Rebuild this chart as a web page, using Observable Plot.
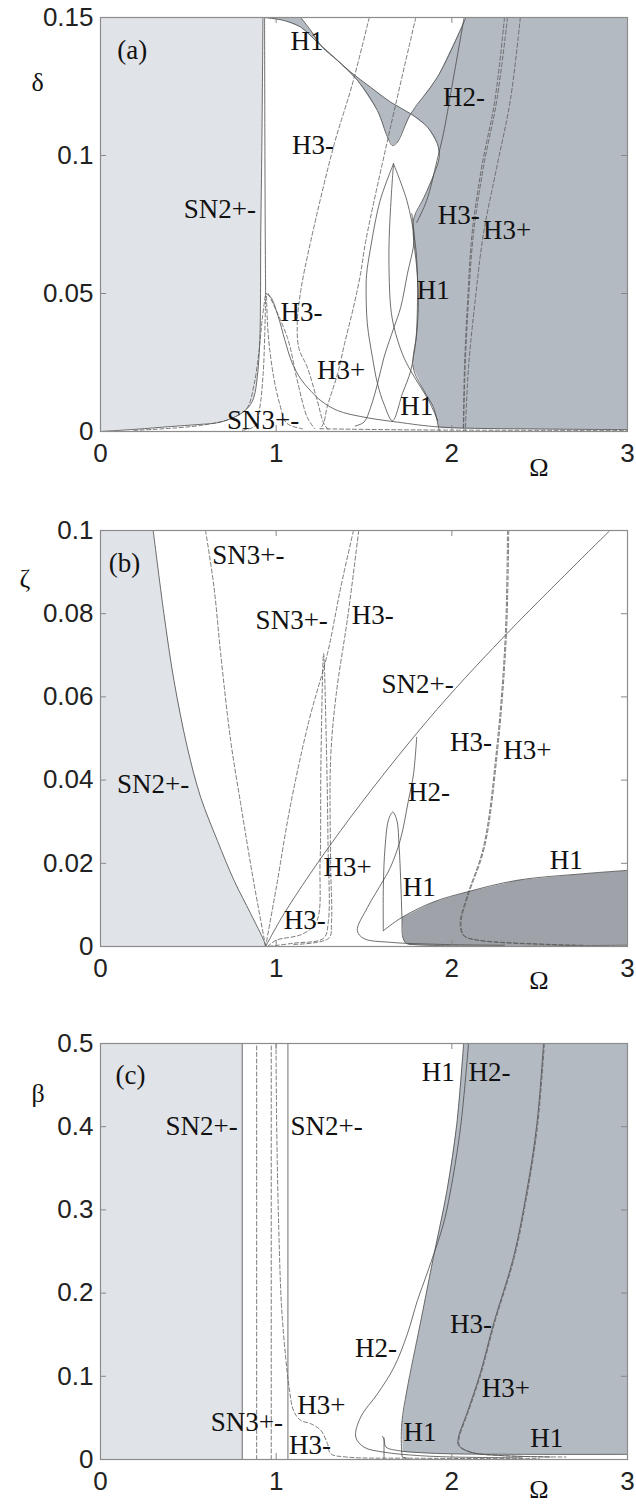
<!DOCTYPE html>
<html><head><meta charset="utf-8">
<script src="https://cdn.jsdelivr.net/npm/d3@7"></script>
<script src="https://cdn.jsdelivr.net/npm/@observablehq/plot@0.6"></script>
<style>body{margin:0;background:#fff;width:636px;height:1508px;overflow:hidden} svg{display:block}</style>
</head><body><div id="chart"></div>
<script>
// ---------- shared ----------
const xTicks = [0, 1, 2, 3];
const xTickLabels = ["0", "1", "2", "3"];

// ---------- panel (a): delta vs Omega ----------
const aYTicks = [0, 0.05, 0.1, 0.15];
const aYTickLabels = ["0", "0.05", "0.1", "0.15"];
const aSN2 = [[0,0],[0.2,0.0008],[0.4,0.0018],[0.55,0.0025],[0.684,0.0034],[0.797,0.0064],[0.845,0.009],[0.873,0.0124],[0.893,0.02],[0.907,0.033],[0.911,0.05],[0.912,0.0692],[0.918,0.1],[0.925,0.15]];
const aSN2b = [[0.934,0.15],[0.936,0.1],[0.938,0.07],[0.94,0.05]];
const aCuspSolid = [[0.94,0.05],[0.969,0.0487],[1.01,0.042],[1.05,0.033],[1.09,0.025],[1.14,0.019],[1.2,0.0145],[1.254,0.0112],[1.349,0.0076],[1.5,0.0052],[1.69,0.0034],[1.937,0.0016],[2.5,0.0009],[3,0.0007]];
const aCuspDash1 = [[0.19,0.0004],[0.57,0.0022],[0.76,0.0051],[0.836,0.0087],[0.874,0.017],[0.902,0.029],[0.921,0.041],[0.94,0.05]];
const aCuspDash2 = [[0.94,0.05],[0.935,0.035],[0.925,0.02],[0.905,0.008],[0.88,0.002],[0.8,0.0004]];
const aCuspDash3 = [[0.945,0.049],[0.955,0.035],[0.985,0.02],[1.02,0.01],[1.06,0.003],[1.15,0.001]];
const aCuspDash4 = [[0.955,0.05],[1.064,0.034],[1.12,0.0185],[1.178,0.005],[1.22,0.001]];
const aH3upper1 = [[1.53,0.15],[1.43,0.125],[1.33,0.104],[1.197,0.069],[1.14,0.051],[1.12,0.039],[1.13,0.03],[1.177,0.0233],[1.234,0.0112],[1.272,0.0028],[1.3,0.0005]];
const aH3upper2 = [[1.795,0.15],[1.65,0.11],[1.51,0.069],[1.48,0.057],[1.44,0.045],[1.39,0.032],[1.35,0.021],[1.29,0.0088],[1.27,0.003],[1.25,0.001]];
const aS1 = [[0.931,0.15],[1.045,0.1489],[1.14,0.1465],[1.235,0.141],[1.33,0.1356],[1.425,0.1302],[1.538,0.1247],[1.652,0.1193],[1.766,0.1151],[1.861,0.1103],[1.918,0.1042],[1.928,0.0994],[1.899,0.0934],[1.842,0.0849],[1.785,0.0776],[1.78,0.0716],[1.80,0.0595],[1.81,0.0475],[1.80,0.0354],[1.78,0.0233],[1.84,0.0149],[1.895,0.0088],[1.924,0.0016],[1.93,0]];
const aV = [[1.14,0.15],[1.197,0.1453],[1.263,0.1392],[1.349,0.1344],[1.463,0.1272],[1.576,0.1163],[1.634,0.1066],[1.662,0.1036],[1.69,0.1048],[1.766,0.1151],[1.918,0.1284],[2.08,0.15]];
const aWedgeFill = [[0.931,0.15],[1.045,0.1489],[1.14,0.1465],[1.235,0.141],[1.33,0.1356],[1.425,0.1302],[1.538,0.1247],[1.652,0.1193],[1.766,0.1151],[1.69,0.1048],[1.662,0.1036],[1.634,0.1066],[1.576,0.1163],[1.463,0.1272],[1.349,0.1344],[1.263,0.1392],[1.197,0.1453],[1.14,0.15]];
const aDarkFill = [[2.08,0.15],[3,0.15],[3,0.0008],[2.5,0.0009],[1.94,0.0012],[1.924,0.0016],[1.895,0.0088],[1.84,0.0149],[1.78,0.0233],[1.80,0.0354],[1.81,0.0475],[1.80,0.0595],[1.78,0.0716],[1.785,0.0776],[1.842,0.0849],[1.899,0.0934],[1.928,0.0994],[1.918,0.1042],[1.861,0.1103],[1.766,0.1151],[1.918,0.1284],[2.08,0.15]];
const aH2 = [[2.07,0.15],[2.0,0.1248],[1.952,0.1079],[1.915,0.098],[1.857,0.0837],[1.80,0.0757]];
const aLens = [[1.668,0.097],[1.592,0.0837],[1.535,0.0656],[1.515,0.057],[1.512,0.0511],[1.519,0.039],[1.548,0.0269],[1.577,0.0173],[1.614,0.0099],[1.662,0.0039],[1.719,0.0138],[1.766,0.022],[1.795,0.033],[1.804,0.045],[1.804,0.0571],[1.79,0.069],[1.744,0.0837],[1.668,0.097]];
const aCross1 = [[1.772,0.0789],[1.785,0.0692],[1.747,0.0571],[1.709,0.045],[1.671,0.0378],[1.614,0.0269],[1.577,0.0173],[1.538,0.0088],[1.50,0.0034],[1.45,0.002]];
const aCross2 = [[1.668,0.097],[1.655,0.085],[1.643,0.0692],[1.643,0.0571],[1.652,0.045],[1.671,0.0378],[1.719,0.028],[1.766,0.022],[1.823,0.016],[1.87,0.011],[1.92,0.004]];
const aH3m = [[2.317,0.15],[2.256,0.12],[2.18,0.0958],[2.123,0.0716],[2.095,0.0475],[2.076,0.0233],[2.067,0]];
const aH3m2 = [[2.30,0.15],[2.245,0.12],[2.17,0.0958],[2.115,0.0716],[2.09,0.0475],[2.072,0.0233],[2.065,0]];
const aH3p = [[2.39,0.15],[2.333,0.12],[2.256,0.0958],[2.18,0.0716],[2.133,0.0475],[2.095,0.0233],[2.077,0]];
const aBottomDash = [[1.25,0.001],[1.6,0.0007],[2.0,0.0005],[3,0.0004]];
const aLabels = [
  {t:"(a)", x:0.095, y:0.138}, {t:"H1", x:1.082, y:0.1413}, {t:"H3-", x:1.09, y:0.1036},
  {t:"SN2+-", x:0.474, y:0.0804}, {t:"H2-", x:1.95, y:0.121}, {t:"H3-", x:1.92, y:0.0783},
  {t:"H3+", x:2.178, y:0.0728}, {t:"H1", x:1.80, y:0.0511}, {t:"H3-", x:1.025, y:0.043},
  {t:"H3+", x:1.232, y:0.0221}, {t:"H1", x:1.706, y:0.0092}, {t:"SN3+-", x:0.72, y:0.004}
];

// ---------- panel (b): zeta vs Omega ----------
const bYTicks = [0, 0.02, 0.04, 0.06, 0.08, 0.1];
const bYTickLabels = ["0", "0.02", "0.04", "0.06", "0.08", "0.1"];
const bSN2a = [[0.94,0],[0.93,0.0014],[0.855,0.0079],[0.76,0.0159],[0.665,0.0255],[0.57,0.0359],[0.494,0.0479],[0.418,0.064],[0.361,0.08],[0.30,0.1]];
const bLightFill = [[0,0],[0.94,0],[0.93,0.0014],[0.855,0.0079],[0.76,0.0159],[0.665,0.0255],[0.57,0.0359],[0.494,0.0479],[0.418,0.064],[0.361,0.08],[0.30,0.1],[0,0.1]];
const bSN2b = [[0.94,0],[1.045,0.0079],[1.368,0.0279],[1.861,0.0543],[2.295,0.0744],[2.90,0.1]];
const bDarkFill = [[1.716,0.007],[1.895,0.0107],[2.085,0.0131],[2.37,0.0159],[2.75,0.0175],[3.0,0.0183],[3,0.0003],[1.76,0.0004],[1.73,0.0012],[1.721,0.0022]];
const bH1a = [[1.61,0.0038],[1.61,0.0143],[1.62,0.0239],[1.64,0.0305],[1.664,0.0323],[1.687,0.0303],[1.70,0.0239],[1.709,0.0159],[1.716,0.007],[1.721,0.0022],[1.74,0.0008],[1.8,0.0004],[3,0.0003]];
const bH1b = [[1.61,0.0038],[1.716,0.007],[1.895,0.0107],[2.085,0.0131],[2.37,0.0159],[2.75,0.0175],[3.0,0.0183]];
const bH2 = [[1.80,0.0503],[1.782,0.0415],[1.753,0.0351],[1.706,0.0255],[1.65,0.019],[1.61,0.0159],[1.52,0.0094],[1.462,0.0038],[1.50,0.0019],[1.652,0.001],[1.94,0.0005],[2.3,0.0003]];
const bH3m = [[2.317,0.1],[2.304,0.0744],[2.256,0.0479],[2.18,0.0239],[2.085,0.0119],[2.047,0.0055],[2.067,0.0026],[2.14,0.0016],[2.56,0.0005],[2.7,0.0003]];
const bH3p = [[2.324,0.1],[2.31,0.0744],[2.262,0.0479],[2.186,0.0239],[2.09,0.0119],[2.052,0.0055],[2.072,0.0026],[2.15,0.0015],[2.6,0.0004],[2.75,0.0003]];
const bSN3a = [[0.598,0.1],[0.646,0.0864],[0.684,0.0704],[0.741,0.0495],[0.798,0.0343],[0.87,0.016],[0.94,0]];
const bSN3b = [[1.44,0.1],[1.368,0.0864],[1.292,0.0704],[1.187,0.0543],[1.083,0.0343],[1.0,0.014],[0.94,0]];
const bSpike = [[0.95,0],[1.0,0.0015],[1.15,0.003],[1.23,0.006],[1.25,0.02],[1.255,0.045],[1.27,0.0704],[1.285,0.05],[1.295,0.025],[1.297,0.006],[1.27,0.002],[1.1,0.0008],[0.95,0]];
const bH3up = [[1.47,0.1],[1.41,0.08],[1.34,0.06],[1.31,0.045],[1.31,0.02],[1.315,0.006],[1.30,0.002],[1.1,0.0005]];
const bLabels = [
  {t:"(b)", x:0.047, y:0.092}, {t:"SN3+-", x:0.636, y:0.094}, {t:"SN3+-", x:0.883, y:0.0784},
  {t:"H3-", x:1.43, y:0.0796}, {t:"SN2+-", x:1.60, y:0.0631}, {t:"SN2+-", x:0.094, y:0.039},
  {t:"H3-", x:1.99, y:0.0491}, {t:"H3+", x:2.293, y:0.0471}, {t:"H2-", x:1.75, y:0.037},
  {t:"H3+", x:1.27, y:0.019}, {t:"H1", x:1.72, y:0.0143}, {t:"H1", x:2.557, y:0.0207},
  {t:"H3-", x:1.043, y:0.0063}
];

// ---------- panel (c): beta vs Omega ----------
const cYTicks = [0, 0.1, 0.2, 0.3, 0.4, 0.5];
const cYTickLabels = ["0", "0.1", "0.2", "0.3", "0.4", "0.5"];
const cLightFill = [[0,0],[0.807,0],[0.807,0.5],[0,0.5]];
const cDarkFill = [[2.067,0.5],[3,0.5],[3,0.006],[2.0,0.0065],[1.80,0.008],[1.72,0.009],[1.715,0.043],[1.744,0.083],[1.82,0.163],[1.895,0.243],[1.972,0.323],[2.028,0.403],[2.067,0.5]];
const cSN2L = [[0.807,0],[0.807,0.5]];
const cSN2R = [[1.067,0],[1.067,0.5]];
const cSN3a = [[0.889,0],[0.889,0.5]];
const cSN3b = [[0.972,0],[0.972,0.5]];
const cH3left = [[0.999,0.5],[1.003,0.4],[1.012,0.3],[1.026,0.203],[1.035,0.17],[1.054,0.123],[1.075,0.085],[1.10,0.058],[1.14,0.047],[1.197,0.043],[1.254,0.035],[1.292,0.019],[1.31,0.007],[1.4,0.003],[1.8,0.0015],[2.5,0.001]];
const cH1 = [[2.067,0.5],[2.028,0.403],[1.972,0.323],[1.895,0.243],[1.82,0.163],[1.744,0.083],[1.715,0.043],[1.715,0.0088],[1.72,0.003],[1.75,0.0015]];
const cH2 = [[2.095,0.5],[2.05,0.4],[1.99,0.32],[1.952,0.283],[1.858,0.223],[1.804,0.191],[1.747,0.151],[1.671,0.111],[1.577,0.079],[1.481,0.051],[1.453,0.027],[1.50,0.0148],[1.614,0.0088],[1.804,0.0048],[2.0,0.003],[2.4,0.002]];
const cH1spike = [[1.614,0],[1.614,0.026]];
const cH1low = [[1.605,0.028],[1.614,0.024],[1.625,0.015],[1.70,0.0105],[1.80,0.0085],[2.0,0.0068],[3,0.0062]];
const cH3R = [[2.522,0.5],[2.484,0.403],[2.427,0.323],[2.351,0.243],[2.237,0.163],[2.161,0.103],[2.085,0.055],[2.038,0.027],[2.038,0.017],[2.105,0.0088],[2.275,0.0048],[2.56,0.003]];
const cH3R2 = [[2.527,0.5],[2.489,0.403],[2.432,0.323],[2.356,0.243],[2.242,0.163],[2.166,0.103],[2.09,0.055],[2.043,0.027],[2.043,0.017],[2.11,0.0088],[2.3,0.0045],[2.65,0.003]];
const cLabels = [
  {t:"(c)", x:0.085, y:0.4615}, {t:"SN2+-", x:0.37, y:0.40}, {t:"SN2+-", x:1.082, y:0.40},
  {t:"H1", x:1.829, y:0.4655}, {t:"H2-", x:2.095, y:0.4655}, {t:"H3-", x:1.99, y:0.163},
  {t:"H2-", x:1.449, y:0.133}, {t:"H3+", x:2.171, y:0.085}, {t:"H3+", x:1.12, y:0.065},
  {t:"SN3+-", x:0.627, y:0.045}, {t:"H1", x:1.725, y:0.033}, {t:"H1", x:2.446, y:0.025},
  {t:"H3-", x:1.073, y:0.0168}
];

// ---------- colours ----------
const LIGHT = "#e0e3e8", DARK = "#b4bac2", DARKB = "#9fa3a9";
const SERIF = "'Liberation Serif','Times New Roman',serif";
const SANS = "'Liberation Sans',Arial,sans-serif";

function panel(c) {
  const [y0, y1] = c.yDomain;
  const tkY = (y1 - y0) * 6 / 416, tkX = 3 * 6 / 527;
  const X = d => d[0], Y = d => d[1];
  const marks = [];
  for (const f of c.fills) marks.push(Plot.line(f.pts, {x: X, y: Y, fill: f.color, stroke: "none", clip: true}));
  for (const s of c.solids) marks.push(Plot.line(s, {x: X, y: Y, stroke: "#4a4a4a", strokeWidth: 0.8, curve: "catmull-rom", clip: true}));
  for (const s of c.dashes) marks.push(Plot.line(s, {x: X, y: Y, stroke: "#5a5a5a", strokeWidth: 0.8, strokeDasharray: "4,2.5", curve: "catmull-rom", clip: true}));
  marks.push(
    Plot.ruleX(xTicks, {x: d => d, y1: y0, y2: y0 + tkY, stroke: "#888"}),
    Plot.ruleX(xTicks, {x: d => d, y1: y1, y2: y1 - tkY, stroke: "#888"}),
    Plot.ruleY(c.yTicks, {y: d => d, x1: 0, x2: tkX, stroke: "#888"}),
    Plot.ruleY(c.yTicks, {y: d => d, x1: 3, x2: 3 - tkX, stroke: "#888"}),
    Plot.axisX(xTicks, {tickSize: 0, tickPadding: 12, label: null, tickFormat: d => xTickLabels[xTicks.indexOf(d)], fill: "#222"}),
    Plot.axisY(c.yTicks, {tickSize: 0, tickPadding: 7, label: null, tickFormat: d => c.yTickLabels[c.yTicks.indexOf(d)], fill: "#222"}),
    Plot.text(c.labels, {x: "x", y: "y", text: "t", textAnchor: "start", fontFamily: SERIF, fontSize: 27, fill: "#111"}),
    Plot.text([c.axisName], {text: d => d, frameAnchor: "top-left", dx: c.axDx, dy: c.axDy, fontFamily: SERIF, fontSize: 26, fill: "#111"}),
    Plot.text(["Ω"], {text: d => d, frameAnchor: "bottom", dx: 175, dy: c.omegaDy, fontFamily: SERIF, fontSize: 26, fill: "#111"}),
    Plot.frame({stroke: "#8c8c8c", strokeWidth: 1.2})
  );
  return Plot.plot({
    width: 636, height: c.height,
    marginLeft: 100, marginRight: 9, marginTop: 17, marginBottom: c.marginBottom,
    x: {domain: [0, 3]}, y: {domain: c.yDomain},
    style: {fontFamily: SANS, fontSize: "26px", color: "#222", background: "white", overflow: "visible"},
    marks
  });
}

const root = document.getElementById("chart");
root.append(panel({
  height: 513, marginBottom: 82, yDomain: [0, 0.15], yTicks: aYTicks, yTickLabels: aYTickLabels,
  fills: [{pts: aSN2.concat([[0,0.15]]), color: LIGHT}, {pts: aWedgeFill, color: DARK}, {pts: aDarkFill, color: DARK}],
  solids: [aSN2, aSN2b, aCuspSolid, aS1, aV, aH2, aLens, aCross1, aCross2],
  dashes: [aCuspDash1, aCuspDash2, aCuspDash3, aCuspDash4, aH3upper1, aH3upper2, aH3m, aH3m2, aH3p, aBottomDash],
  labels: aLabels, axisName: "δ", axDx: -69, axDy: 55, omegaDy: 44
}));
root.append(panel({
  height: 513, marginBottom: 80, yDomain: [0, 0.1], yTicks: bYTicks, yTickLabels: bYTickLabels,
  fills: [{pts: bLightFill, color: LIGHT}, {pts: bDarkFill, color: DARKB}],
  solids: [bSN2a, bSN2b, bH1a, bH1b, bH2],
  dashes: [bH3m, bH3p, bSN3a, bSN3b, bSpike, bH3up],
  labels: bLabels, axisName: "ζ", axDx: -81, axDy: 38, omegaDy: 42
}));
root.append(panel({
  height: 482, marginBottom: 49, yDomain: [0, 0.5], yTicks: cYTicks, yTickLabels: cYTickLabels,
  fills: [{pts: cLightFill, color: LIGHT}, {pts: cDarkFill, color: DARK}],
  solids: [cSN2L, cSN2R, cH1, cH2, cH1spike, cH1low, cH3R],
  dashes: [cSN3a, cSN3b, cH3left, cH3R2],
  labels: cLabels, axisName: "β", axDx: -69, axDy: 40, omegaDy: 38
}));
</script></body></html>
